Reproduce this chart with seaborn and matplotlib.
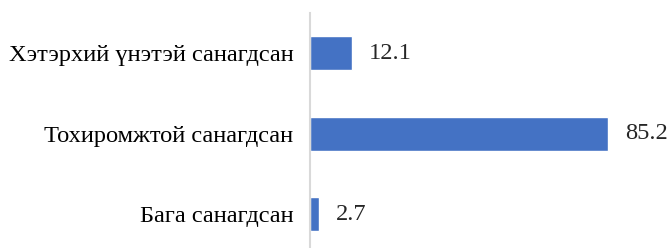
import matplotlib
matplotlib.use("Agg")
import matplotlib.pyplot as plt
import seaborn as sns
import pandas as pd

categories = ["Хэтэрхий үнэтэй санагдсан", "Тохиромжтой санагдсан", "Бага санагдсан"]
values = [12.1, 85.2, 2.7]

df = pd.DataFrame({"category": categories, "value": values})

sns.set_style("white")
plt.rcParams["font.family"] = ["Liberation Serif", "DejaVu Serif"]

fig = plt.figure(figsize=(6.7, 2.48), dpi=100)
ax = fig.add_axes([310 / 670, 0, 360 / 670, 235 / 248])
sns.barplot(data=df, y="category", x="value", color="#4472C4",
            width=0.42, ax=ax, saturation=1)
ax.set_xlim(0, 102.8)
ax.set_ylim(2.42, -0.5)
ax.set_xlabel("")
ax.set_ylabel("")
ax.set_xticks([])
ax.tick_params(axis="y", length=0, pad=12, labelsize=17.6, labelcolor="black")
for s in ["top", "right", "bottom"]:
    ax.spines[s].set_visible(False)
ax.spines["left"].set_color("#D9D9D9")
ax.spines["left"].set_linewidth(1.5)
ax.bar_label(ax.containers[0], fmt="%.1f", padding=12, fontsize=17.6)

fig.savefig("out.png", dpi=100)
